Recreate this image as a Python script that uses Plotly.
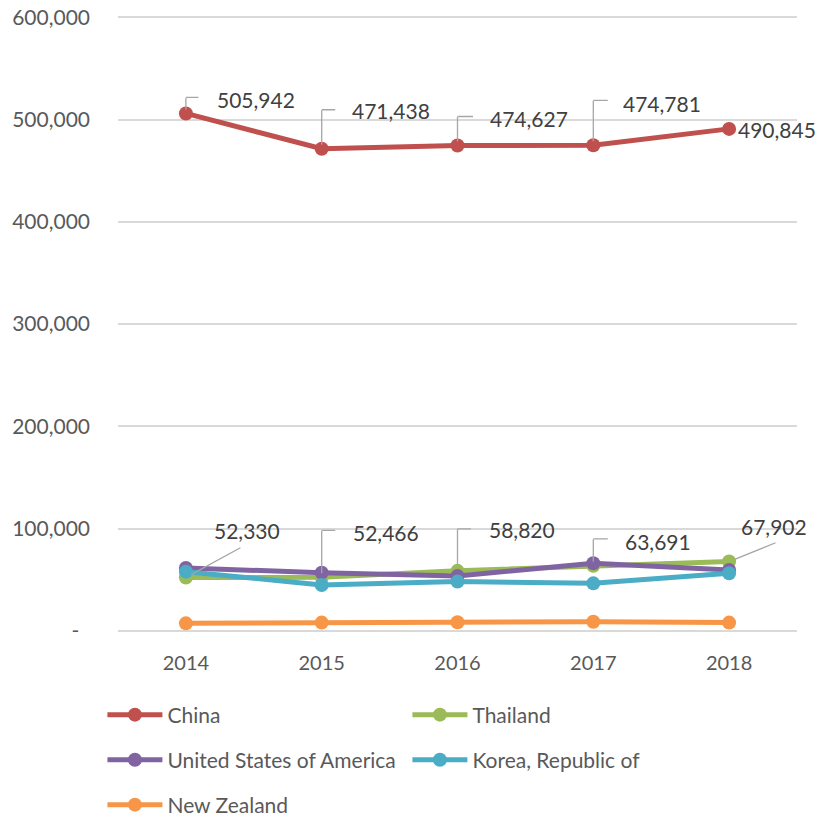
import plotly.graph_objects as go

years = ["2014", "2015", "2016", "2017", "2018"]
china = [505942, 471438, 474627, 474781, 490845]
thailand = [52330, 52466, 58820, 63691, 67902]
usa = [61600, 57000, 53800, 66200, 59700]
korea = [58000, 45000, 48300, 46600, 56400]
new_zealand = [7500, 8200, 8500, 9100, 8200]

ytick_vals = [0, 100000, 200000, 300000, 400000, 500000, 600000]
ytick_text = ["-\u00a0\u00a0", "100,000", "200,000", "300,000", "400,000", "500,000", "600,000"]

series = [
    ("China", china, "#C0504D", "legend"),
    ("Thailand", thailand, "#9BBB59", "legend"),
    ("United States of America", usa, "#8064A2", "legend2"),
    ("Korea, Republic of", korea, "#4BACC6", "legend2"),
    ("New Zealand", new_zealand, "#F79646", "legend3"),
]

FONT = "Lato"
GRAY = "#595959"
LBL = "#404040"
LEAD = "#A6A6A6"

fig = go.Figure()
for name, vals, col, lg in series:
    fig.add_trace(go.Scatter(
        x=years, y=vals, name=name, mode="lines+markers", legend=lg,
        line=dict(color=col, width=5), marker=dict(color=col, size=14),
        cliponaxis=False,
    ))

# label placement in pixels: (text dx, text dy up, leader kind, leader params)
china_lbl = [(29, 14, "elbow", (16, 13)), (28, 38, "elbow", (39, 14)),
             (30, 27, "elbow", (29, 16)), (28, 42, "elbow", (45, 15)),
             (7, -1, None, None)]
thai_lbl = [(26, 47, "diag", (55, -30)), (29, 45, "elbow", (47, 14)),
            (29, 41, "elbow", (42, 14)), (30, 24, "elbow", (27, 15)),
            (10, 35, "diag", (47, -19))]


def add_labels(vals, spec):
    for i, (v, (dx, dy, kind, p)) in enumerate(zip(vals, spec)):
        if kind == "elbow":
            h, w = p
            fig.add_annotation(x=i, y=v, xref="x", yref="y", text="",
                               ax=0, ay=-h, axref="pixel", ayref="pixel",
                               showarrow=True, arrowhead=0, arrowwidth=1.3,
                               arrowcolor=LEAD, standoff=4, startstandoff=0,
                               borderpad=0)
            fig.add_annotation(x=i, y=v, xref="x", yref="y", text="",
                               yshift=h, ax=w, ay=0, axref="pixel", ayref="pixel",
                               showarrow=True, arrowhead=0, arrowwidth=1.3,
                               arrowcolor=LEAD, standoff=0, startstandoff=0,
                               borderpad=0)
        elif kind == "diag":
            ax, ay = p
            fig.add_annotation(x=i, y=v, xref="x", yref="y", text="",
                               ax=ax, ay=ay, axref="pixel", ayref="pixel",
                               showarrow=True, arrowhead=0, arrowwidth=1.3,
                               arrowcolor=LEAD, standoff=6, startstandoff=0,
                               borderpad=0)
        fig.add_annotation(x=i, y=v, xref="x", yref="y", text=f"{v:,}",
                           showarrow=False, xanchor="left", yanchor="middle",
                           xshift=dx, yshift=dy,
                           font=dict(family=FONT, size=21, color=LBL))


add_labels(china, china_lbl)
add_labels(thailand, thai_lbl)

leg_common = dict(orientation="h", xanchor="left", yanchor="middle",
                  xref="container", yref="container",
                  entrywidth=235, entrywidthmode="pixels", itemwidth=55,
                  bgcolor="rgba(0,0,0,0)",
                  font=dict(family=FONT, size=21, color=GRAY))

fig.update_layout(
    width=820, height=819,
    margin=dict(l=118, r=23, t=16, b=188, autoexpand=False),
    paper_bgcolor="white", plot_bgcolor="white",
    font=dict(family=FONT, size=21, color=GRAY),
    xaxis=dict(type="category", range=[-0.5, 4.5], showgrid=False, showline=False,
               automargin=False,
               ticks="", ticklabelstandoff=18, tickfont=dict(size=20, color=GRAY)),
    yaxis=dict(range=[0, 601200], tickvals=ytick_vals, ticktext=ytick_text,
               automargin=False,
               showgrid=True, gridcolor="#D9D9D9", gridwidth=1.5, zeroline=True,
               zerolinecolor="#D9D9D9", zerolinewidth=1.5,
               showline=False, ticks="", ticklabelstandoff=27,
               tickfont=dict(size=21, color=GRAY)),
    legend=dict(x=0.1249, y=0.127, **leg_common),
    legend2=dict(x=0.1249, y=0.072, **leg_common),
    legend3=dict(x=0.1249, y=0.0171, **leg_common),
    showlegend=True,
)

fig.write_html("out.html", config={"displayModeBar": False},
               post_script="document.body.style.margin='0';")
